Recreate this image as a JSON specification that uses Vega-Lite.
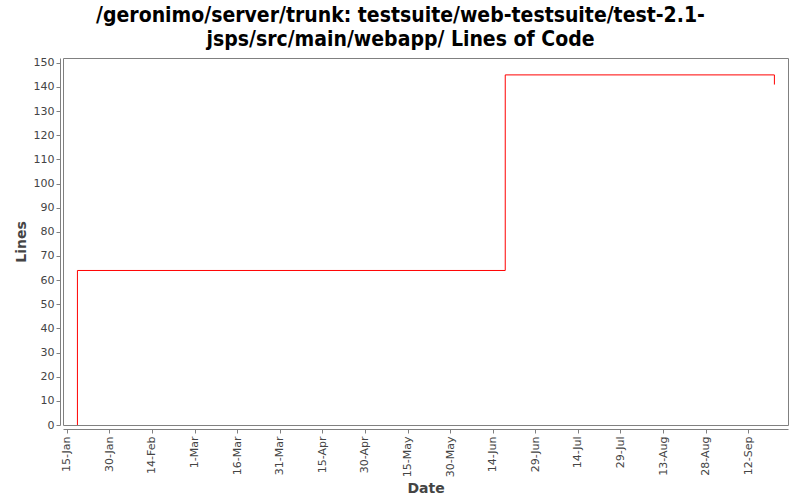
{
  "$schema": "https://vega.github.io/schema/vega-lite/v6.json",
  "width": 725,
  "height": 367,
  "autosize": {"type": "none"},
  "padding": {"left": 63, "top": 58, "right": 12, "bottom": 75},
  "background": "white",
  "title": {
    "text": ["/geronimo/server/trunk: testsuite/web-testsuite/test-2.1-", "jsps/src/main/webapp/ Lines of Code"],
    "font": "DejaVu Sans Condensed",
    "fontSize": 21,
    "fontWeight": "bold",
    "color": "black",
    "anchor": "middle",
    "dx": -25,
    "offset": 7,
    "lineHeight": 24
  },
  "data": {
    "values": [
      {"date": "2007-01-18T18:00:00", "lines": 0},
      {"date": "2007-01-18T18:00:00", "lines": 64},
      {"date": "2007-06-18T10:00:00", "lines": 145},
      {"date": "2007-09-21T05:00:00", "lines": 141}
    ]
  },
  "mark": {"type": "line", "interpolate": "step-after", "color": "#ff0000", "strokeWidth": 1},
  "encoding": {
    "x": {
      "field": "date",
      "type": "temporal",
      "title": "Date",
      "scale": {"domain": ["2007-01-13T16:00:00", "2007-09-26T00:00:00"]},
      "axis": {
        "values": ["2007-01-15T00:00:00", "2007-01-30T00:00:00", "2007-02-14T00:00:00", "2007-03-01T00:00:00", "2007-03-16T00:00:00", "2007-03-31T00:00:00", "2007-04-15T00:00:00", "2007-04-30T00:00:00", "2007-05-15T00:00:00", "2007-05-30T00:00:00", "2007-06-14T00:00:00", "2007-06-29T00:00:00", "2007-07-14T00:00:00", "2007-07-29T00:00:00", "2007-08-13T00:00:00", "2007-08-28T00:00:00", "2007-09-12T00:00:00"],
        "format": "%-d-%b",
        "labelAngle": -90,
        "labelAlign": "right",
        "labelBaseline": "middle",
        "labelFont": "DejaVu Sans",
        "labelFontSize": 11,
        "labelColor": "#444444",
        "labelPadding": 3,
        "offset": 4,
        "grid": false,
        "domainColor": "#808080",
        "tickColor": "#808080",
        "tickSize": 4,
        "titleFont": "DejaVu Sans",
        "titleFontSize": 14,
        "titleFontWeight": "bold",
        "titleColor": "#444444",
        "titlePadding": 5,
        "labelOverlap": false,
        "labelFlush": false
      }
    },
    "y": {
      "field": "lines",
      "type": "quantitative",
      "title": "Lines",
      "scale": {"domain": [0, 152], "nice": false, "zero": true},
      "axis": {
        "values": [0, 10, 20, 30, 40, 50, 60, 70, 80, 90, 100, 110, 120, 130, 140, 150],
        "labelFont": "DejaVu Sans",
        "labelFontSize": 11,
        "labelColor": "#444444",
        "offset": 3,
        "grid": false,
        "domainColor": "#808080",
        "tickColor": "#808080",
        "tickSize": 4,
        "titleFont": "DejaVu Sans",
        "titleFontSize": 14,
        "titleFontWeight": "bold",
        "titleColor": "#444444",
        "titlePadding": 5,
        "labelOverlap": false,
        "labelFlush": false
      }
    }
  },
  "config": {
    "view": {"stroke": "#808080", "strokeWidth": 1}
  }
}
